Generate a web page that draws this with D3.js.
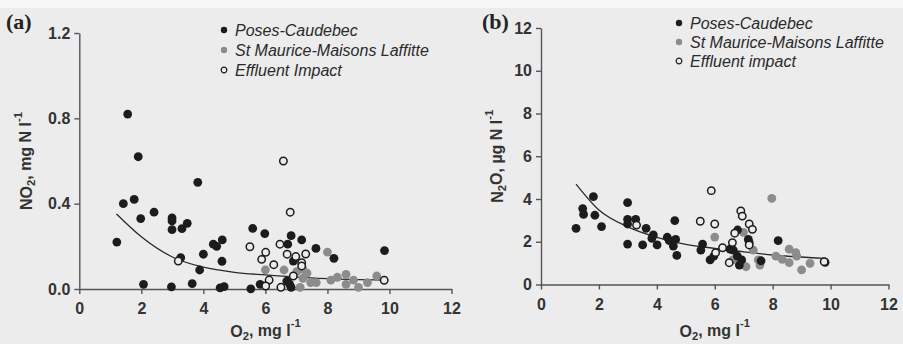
<!DOCTYPE html>
<html>
<head>
<meta charset="utf-8">
<script src="https://cdn.jsdelivr.net/npm/d3@7"></script>
<style>
  html, body { margin: 0; padding: 0; background: #ececec; }
  svg { display: block; }
  .tick text { font-family: "Liberation Sans", Arial, sans-serif; font-weight: bold; font-size: 16px; fill: #333; }
  .axis path, .axis line { stroke: #555; stroke-width: 1.4px; }
</style>
</head>
<body>
<svg id="svg" width="903" height="344"></svg>
<script>
(function () {
  // ---- data ----
  const xTicks = [0, 2, 4, 6, 8, 10, 12];
  const yTicksA = [0, 0.4, 0.8, 1.2];
  const yTicksB = [0, 2, 4, 6, 8, 10, 12];
  const seriesNames = ['Poses-Caudebec', 'St Maurice-Maisons Laffitte', 'Effluent Impact'];
  const seriesNamesB = ['Poses-Caudebec', 'St Maurice-Maisons Laffitte', 'Effluent impact'];

  // (a) NO2 vs O2
  const posesA = [[1.21,0.22],[1.42,0.40],[1.56,0.82],[1.77,0.42],[1.9,0.62],[1.98,0.33],[2.41,0.36],
    [2.99,0.333],[2.99,0.319],[2.99,0.278],[3.31,0.283],[3.48,0.308],[3.82,0.50],[3.27,0.147],
    [4.0,0.163],[3.88,0.089],[4.32,0.21],[4.43,0.20],[4.61,0.23],[4.60,0.13],[2.07,0.022],
    [2.97,0.01],[3.64,0.025],[4.54,0.005],[4.67,0.011],[5.53,0.001],[5.83,0.022],[5.59,0.284],
    [5.98,0.26],[6.83,0.25],[6.72,0.21],[7.17,0.23],[7.63,0.19],[8.21,0.144],[9.84,0.18],
    [6.90,0.131],[6.69,0.037],[6.78,0.023],[6.83,0.008]];
  const stmA = [[6.0,0.09],[6.60,0.089],[7.01,0.081],[7.21,0.092],[7.34,0.074],[7.21,0.05],
    [7.46,0.03],[7.64,0.03],[7.12,0.008],[8.0,0.173],[8.11,0.042],[8.32,0.055],[8.60,0.069],
    [8.60,0.022],[8.84,0.042],[9.0,0.008],[9.29,0.03],[9.59,0.061]];
  const effA = [[3.19,0.131],[5.50,0.198],[5.88,0.139],[6.01,0.172],[6.27,0.114],[6.12,0.042],
    [6.01,0.014],[6.5,0.008],[6.58,0.60],[6.80,0.36],[6.47,0.21],[6.70,0.163],[6.98,0.152],
    [7.17,0.123],[7.17,0.108],[7.30,0.164],[6.90,0.061],[9.83,0.041]];
  const fitA = [[1.2,0.352],[2,0.245],[3,0.15],[4,0.102],[5,0.078],[6,0.066],[7,0.056],[8,0.049],[9.8,0.042]];

  // (b) N2O vs O2
  const posesB = [[1.21,2.63],[1.44,3.55],[1.47,3.28],[1.81,4.11],[1.86,3.24],[2.09,2.71],
    [2.99,3.83],[2.99,3.05],[2.99,2.83],[3.27,3.05],[2.99,1.89],[3.51,1.85],[3.63,2.63],
    [3.88,2.32],[3.83,2.16],[4.01,1.85],[4.36,2.21],[4.43,2.05],[4.65,2.11],[4.57,1.80],
    [4.62,2.99],[4.69,1.36],[5.58,1.89],[5.52,1.61],[5.84,1.15],[5.97,1.33],[6.53,1.65],
    [6.64,1.61],[6.79,2.55],[7.16,2.11],[7.19,1.96],[6.93,1.15],[6.85,0.91],[6.78,1.33],
    [7.60,1.11],[8.19,2.05],[9.81,1.04]];
  const stmB = [[6.0,2.22],[6.99,2.44],[6.62,1.15],[7.33,1.61],[7.08,0.83],[7.50,1.15],
    [7.56,0.91],[7.97,4.03],[8.11,1.33],[8.33,1.18],[8.57,1.65],[8.57,1.02],[8.80,1.49],
    [8.83,1.33],[9.0,0.68],[9.29,0.99]];
  const effB = [[3.30,2.78],[5.50,2.96],[5.88,4.39],[6.0,2.83],[6.03,1.49],[6.90,3.44],
    [6.95,3.20],[7.19,2.83],[7.30,2.58],[6.69,2.40],[6.61,1.96],[7.19,1.85],[6.27,1.72],
    [6.50,1.02],[9.78,1.07]];
  const fitB = [[1.21,4.70],[2,3.49],[3,2.70],[4,2.21],[5,1.88],[6,1.69],[7,1.53],[8,1.38],[9.8,1.22]];

  const svg = d3.select('#svg');
  svg.append('rect').attr('width', 903).attr('height', 344).attr('fill', '#ececec');
  svg.append('rect').attr('width', 903).attr('height', 8).attr('fill', '#f7f7f7');

  const BLACK = '#1c1c1c', GREY = '#8c8c8c', BG = '#ececec';

  function richText(sel, parts) {
    parts.forEach(([t, kind]) => {
      const ts = sel.append('tspan').text(t);
      if (kind === 'sub') ts.attr('font-size', '0.7em').attr('dy', '0.3em');
      else if (kind === 'sup') ts.attr('font-size', '0.7em').attr('dy', '-0.75em');
      else if (kind === 'back-sub') ts.attr('dy', '-0.3em');
    });
  }

  function panel(cfg) {
    const x = d3.scaleLinear().domain([0, 12]).range(cfg.xr);
    const y = d3.scaleLinear().domain(cfg.yDomain).range(cfg.yr);
    const g = svg.append('g');

    g.append('g').attr('class', 'axis')
      .attr('transform', `translate(0,${cfg.yr[0]})`)
      .call(d3.axisBottom(x).tickValues(xTicks).tickSize(5).tickSizeOuter(0).tickPadding(9));
    g.append('g').attr('class', 'axis')
      .attr('transform', `translate(${cfg.xr[0]},0)`)
      .call(d3.axisLeft(y).tickValues(cfg.yTicks).tickFormat(cfg.yFormat).tickSize(5).tickSizeOuter(0).tickPadding(4));

    // fit curve
    const line = d3.line().x(d => x(d[0])).y(d => y(d[1])).curve(d3.curveMonotoneX);
    g.append('path').datum(cfg.fit).attr('d', line)
      .attr('fill', 'none').attr('stroke', '#2a2a2a').attr('stroke-width', 1.3);

    g.append('g').selectAll('circle').data(cfg.stm).join('circle')
      .attr('cx', d => x(d[0])).attr('cy', d => y(d[1])).attr('r', 4.4).attr('fill', GREY);
    g.append('g').selectAll('circle').data(cfg.poses).join('circle')
      .attr('cx', d => x(d[0])).attr('cy', d => y(d[1])).attr('r', 4.4).attr('fill', BLACK);
    g.append('g').selectAll('circle').data(cfg.eff).join('circle')
      .attr('cx', d => x(d[0])).attr('cy', d => y(d[1])).attr('r', 3.7)
      .attr('fill', BG).attr('stroke', BLACK).attr('stroke-width', 1.5);

    // panel letter
    g.append('text').attr('x', cfg.letterX).attr('y', 29)
      .attr('font-family', '"Liberation Serif", "Times New Roman", serif')
      .attr('font-weight', 'bold').attr('font-size', 22).attr('fill', '#222')
      .text(cfg.letter);

    // x label
    const xl = g.append('text')
      .attr('x', (cfg.xr[0] + cfg.xr[1]) / 2).attr('y', 337)
      .attr('text-anchor', 'middle')
      .attr('font-family', '"Liberation Sans", Arial, sans-serif')
      .attr('font-weight', 'bold').attr('font-size', 16).attr('fill', '#333');
    richText(xl, [['O', ''], ['2', 'sub'], [', mg l', 'back-sub'], ['-1', 'sup']]);

    // y label
    const yc = (cfg.yr[0] + cfg.yr[1]) / 2;
    const yl = g.append('text')
      .attr('transform', `translate(${cfg.ylabelX},${yc}) rotate(-90)`)
      .attr('text-anchor', 'middle')
      .attr('font-family', '"Liberation Sans", Arial, sans-serif')
      .attr('font-weight', 'bold').attr('font-size', 16).attr('fill', '#333');
    richText(yl, cfg.ylabel);

    // legend
    const lg = g.append('g').attr('transform', `translate(${cfg.legX},${cfg.legY})`);
    const styles = [
      { fill: BLACK, stroke: 'none', r: 3.2 },
      { fill: GREY, stroke: 'none', r: 3.2 },
      { fill: BG, stroke: BLACK, r: 2.8 }
    ];
    cfg.names.forEach((name, i) => {
      const row = lg.append('g').attr('transform', `translate(0,${i * cfg.legStep})`);
      row.append('circle').attr('r', styles[i].r).attr('fill', styles[i].fill)
        .attr('stroke', styles[i].stroke).attr('stroke-width', 1.2);
      row.append('text').attr('x', 11).attr('dy', '0.36em')
        .attr('font-family', '"Liberation Sans", Arial, sans-serif')
        .attr('font-style', 'italic').attr('font-size', 16).attr('fill', '#2a2a2a')
        .text(name);
    });
  }

  panel({
    xr: [79.3, 451.5], yr: [289, 33], yDomain: [0, 1.2], yTicks: yTicksA, yFormat: d3.format('.1f'),
    poses: posesA, stm: stmA, eff: effA, fit: fitA,
    letter: '(a)', letterX: 6, ylabelX: 32,
    ylabel: [['NO', ''], ['2', 'sub'], [', mg N l', 'back-sub'], ['-1', 'sup']],
    names: seriesNames, legX: 224, legY: 30, legStep: 20
  });
  panel({
    xr: [541, 888.5], yr: [284.5, 28], yDomain: [0, 12], yTicks: yTicksB, yFormat: d3.format('d'),
    poses: posesB, stm: stmB, eff: effB, fit: fitB,
    letter: '(b)', letterX: 482, ylabelX: 503,
    ylabel: [['N', ''], ['2', 'sub'], ['O, \u00b5g N l', 'back-sub'], ['-1', 'sup']],
    names: seriesNamesB, legX: 679, legY: 23, legStep: 19
  });
})();
</script>
</body>
</html>
